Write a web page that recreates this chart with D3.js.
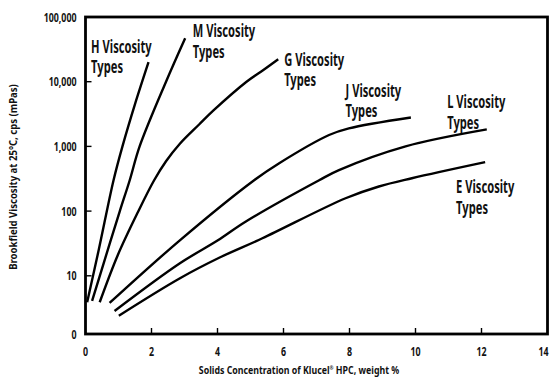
<!DOCTYPE html>
<html>
<meta charset="utf-8">
<title>Klucel HPC viscosity</title>
<style>
	body {
		margin: 0;
		background: #fff;
	}

	text {
		font-family: "Noto Sans", "Open Sans", sans-serif;
		font-weight: bold;
		fill: #111;
	}

	.tick-label {
		font-size: 13px;
	}

	.axis-title {
		font-size: 11px;
	}

	.curve {
		fill: none;
		stroke: #000;
		stroke-width: 2.4px;
	}

	.note {
		font-size: 18px;
	}
</style>

<body>
	<div id="chart"></div>

	<script src="https://cdnjs.cloudflare.com/ajax/libs/d3/7.8.5/d3.min.js"></script>

	<script>
		// viscosity curves, [weight %, cps]
		var hTypes = [[0.05, 3.9], [0.4, 25], [0.85, 300], [1.12, 1000], [1.5, 4500], [1.91, 20000]];
		var mTypes = [[0.2, 4.1], [0.55, 15.6], [1.04, 100], [1.34, 300], [1.64, 1000], [2.44, 10000], [3.02, 47000]];
		var gTypes = [[0.43, 3.9], [0.98, 21], [1.59, 97], [2.08, 300], [2.44, 590], [2.86, 1100], [3.45, 2200], [3.87, 3570], [4.88, 10000], [5.39, 15200], [5.84, 22300]];
		var jTypes = [[0.73, 3.8], [2.85, 35], [5.11, 300], [5.87, 550], [7.38, 1500], [7.98, 1900], [9.86, 2800]];
		var lTypes = [[0.88, 2.86], [2.85, 15.5], [4.0, 35], [4.86, 69], [7.08, 300], [7.68, 430], [9.7, 1000], [12.16, 1830]];
		var eTypes = [[1.01, 2.42], [2.85, 9.1], [4.05, 19], [5.36, 38], [7.88, 158], [8.89, 240], [9.89, 322], [12.11, 570]];

		var series = [hTypes, mTypes, gTypes, jTypes, lTypes, eTypes];

		// curve labels, anchored in data units
		var labelNames = ["H", "M", "G", "J", "L", "E"];
		var labelX = [0.17, 3.25, 6.02, 7.88, 10.96, 11.23];
		var labelY = [27800, 48500, 17500, 5800, 3880, 188];

		var xTicks = [2, 4, 6, 8, 10, 12];
		var xTickLabels = [0, 2, 4, 6, 8, 10, 12, 14];
		var yTicks = [10, 100, 1000, 10000, 100000];
		var yAxisMin = 1.26; // bottom of the axis, labelled "0"

		var width = 551,
			height = 381,
			margin = {
				top: 17,
				right: 3.5,
				bottom: 47,
				left: 85.5
			};

		// the original type is a condensed face, so squeeze horizontally
		var squeeze = 0.62,
			tickSqueeze = 0.68,
			titleSqueeze = 0.8,
			yTitleSqueeze = 0.87;

		var x = d3.scaleLinear()
			.domain([0, 14])
			.range([margin.left, width - margin.right]);

		var y = d3.scaleLog()
			.domain([yAxisMin, 100000])
			.range([height - margin.bottom, margin.top]);

		var svg = d3.select("#chart").append("svg")
			.attr("width", width)
			.attr("height", height);

		var fmt = d3.format(",");

		function place(px, py, s) {
			return "translate(" + px + "," + py + ") scale(" + s + ",1)";
		}

		// curves
		var line = d3.line()
			.x(function (d) { return x(d[0]); })
			.y(function (d) { return y(d[1]); })
			.curve(d3.curveCatmullRom.alpha(0.5));

		svg.append("g").selectAll("path")
			.data(series)
			.enter().append("path")
			.attr("class", "curve")
			.attr("d", line);

		// ticks (pointing inwards)
		svg.append("g").selectAll("line")
			.data(xTicks)
			.enter().append("line")
			.attr("x1", function (d) { return x(d); })
			.attr("x2", function (d) { return x(d); })
			.attr("y1", y(yAxisMin))
			.attr("y2", y(yAxisMin) - 6)
			.style("stroke", "#000")
			.style("stroke-width", 1.4);

		svg.append("g").selectAll("line")
			.data(yTicks.slice(0, 4))
			.enter().append("line")
			.attr("x1", x(0))
			.attr("x2", x(0) + 6)
			.attr("y1", function (d) { return y(d); })
			.attr("y2", function (d) { return y(d); })
			.style("stroke", "#000")
			.style("stroke-width", 1.4);

		// frame
		svg.append("rect")
			.attr("x", x(0))
			.attr("y", y(100000))
			.attr("width", x(14) - x(0))
			.attr("height", y(yAxisMin) - y(100000))
			.style("fill", "none")
			.style("stroke", "#000")
			.style("stroke-width", 2.8);

		// tick labels
		svg.append("g").selectAll("text")
			.data(xTickLabels)
			.enter().append("text")
			.attr("class", "tick-label")
			.attr("transform", function (d) {
				var px = d === 14 ? x(d) - 4 : x(d);
				return place(px, y(yAxisMin) + 22, tickSqueeze);
			})
			.attr("text-anchor", "middle")
			.text(function (d) { return d; });

		svg.append("g").selectAll("text")
			.data(yTicks)
			.enter().append("text")
			.attr("class", "tick-label")
			.attr("transform", function (d) { return place(x(0) - 9, y(d), tickSqueeze); })
			.attr("dy", ".35em")
			.attr("text-anchor", "end")
			.text(function (d) { return fmt(d); });

		svg.append("text")
			.attr("class", "tick-label")
			.attr("transform", place(x(0) - 9, y(yAxisMin), tickSqueeze))
			.attr("dy", ".35em")
			.attr("text-anchor", "end")
			.text("0");

		// axis titles
		var xt = svg.append("text")
			.attr("class", "axis-title")
			.attr("transform", place(299, 374, titleSqueeze))
			.attr("text-anchor", "middle");
		xt.append("tspan").text("Solids Concentration of Klucel");
		xt.append("tspan").attr("baseline-shift", "super").style("font-size", "6px").text("®");
		xt.append("tspan").text(" HPC, weight %");

		svg.append("text")
			.attr("class", "axis-title")
			.attr("transform", "translate(16.5,177) rotate(-90) scale(" + yTitleSqueeze + ",1)")
			.attr("text-anchor", "middle")
			.text("Brookfield Viscosity at 25°C, cps (mPas)");

		// curve labels
		var notes = svg.append("g").selectAll("text")
			.data(labelNames)
			.enter().append("text")
			.attr("class", "note")
			.attr("transform", function (d, i) {
				return place(x(labelX[i]), y(labelY[i]), squeeze);
			});

		notes.append("tspan")
			.attr("x", 0)
			.attr("y", 0)
			.text(function (d) { return d + " Viscosity"; });

		notes.append("tspan")
			.attr("x", 0)
			.attr("y", 20.5)
			.text("Types");
	</script>
</body>
</html>
